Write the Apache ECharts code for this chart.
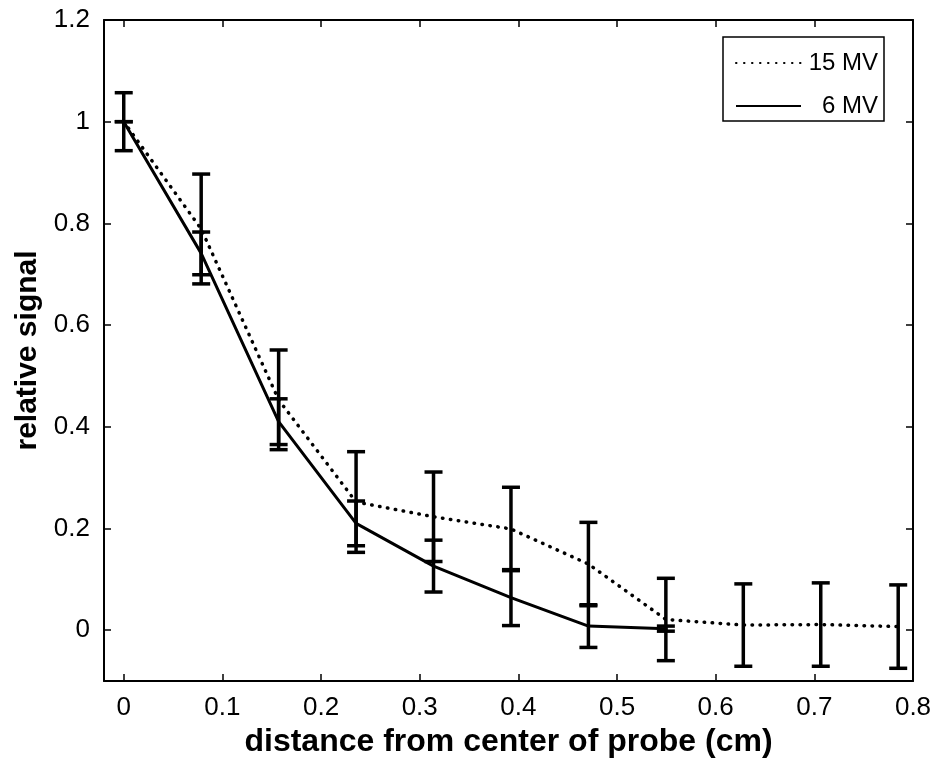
<!DOCTYPE html>
<html>
<head>
<meta charset="utf-8">
<script src="https://cdn.jsdelivr.net/npm/echarts@6/dist/echarts.min.js"></script>
<style>
html,body{margin:0;padding:0;background:#fff;}
#chart{width:935px;height:768px;}
</style>
</head>
<body>
<div id="chart"></div>
<script>
// ---- data ----
var distance = [0, 0.0785, 0.157, 0.2355, 0.314, 0.3925, 0.471, 0.5495, 0.628, 0.7065, 0.785];
var signal15 = [1.0, 0.789, 0.453, 0.252, 0.223, 0.199, 0.130, 0.021, 0.010, 0.011, 0.007];
var err15    = [0.057, 0.108, 0.098, 0.099, 0.088, 0.082, 0.082, 0.081, 0.081, 0.082, 0.082];
var signal6  = [1.0, 0.741, 0.410, 0.210, 0.126, 0.064, 0.008, 0.003];
var err6     = [0.0, 0.042, 0.045, 0.044, 0.051, 0.055, 0.042, 0.005];
var xTicks = [0, 0.1, 0.2, 0.3, 0.4, 0.5, 0.6, 0.7, 0.8];
var yTicks = [0, 0.2, 0.4, 0.6, 0.8, 1, 1.2];
var seriesNames = ['15 MV', '6 MV'];
var xTitle = 'distance from center of probe (cm)';
var yTitle = 'relative signal';

var FONT = '"Liberation Sans", Arial, sans-serif';

function pairs(xs, ys) {
  var out = [];
  for (var i = 0; i < ys.length; i++) out.push([xs[i], ys[i]]);
  return out;
}
function errData(xs, ys, es) {
  var out = [];
  for (var i = 0; i < ys.length; i++) out.push([xs[i], ys[i] - es[i], ys[i] + es[i]]);
  return out;
}
function renderErr(params, api) {
  var x = api.value(0);
  var lo = api.coord([x, api.value(1)]);
  var hi = api.coord([x, api.value(2)]);
  var hw = 9;
  var st = {stroke: '#000', lineWidth: 3.5};
  return {
    type: 'group',
    children: [
      {type: 'line', shape: {x1: lo[0], y1: lo[1], x2: hi[0], y2: hi[1]}, style: st},
      {type: 'line', shape: {x1: lo[0] - hw, y1: lo[1], x2: lo[0] + hw, y2: lo[1]}, style: st},
      {type: 'line', shape: {x1: hi[0] - hw, y1: hi[1], x2: hi[0] + hw, y2: hi[1]}, style: st}
    ]
  };
}

var tickLabel = {fontFamily: FONT, fontSize: 26, color: '#000'};
var axisLineStyle = {color: '#000', width: 2};

var chart = echarts.init(document.getElementById('chart'), null, {renderer: 'canvas'});
chart.setOption({
  animation: false,
  backgroundColor: '#fff',
  grid: {left: 104, right: 22, top: 20, bottom: 87, containLabel: false},
  legend: {
    data: seriesNames,
    orient: 'vertical',
    left: 723, top: 37,
    padding: [14, 6, 3, 12],
    itemWidth: 65, itemHeight: 14, itemGap: 19,
    backgroundColor: '#fff',
    borderColor: '#000', borderWidth: 1.5, borderRadius: 0,
    itemStyle: {opacity: 0},
    formatter: function (n) { return '{t|' + n + '}'; },
    textStyle: {
      fontFamily: FONT, fontSize: 24, color: '#000',
      rich: {t: {fontFamily: FONT, fontSize: 24, color: '#000', width: 72, align: 'right'}}
    }
  },
  xAxis: [
    {
      type: 'value', min: -0.02, max: 0.8, position: 'bottom',
      name: xTitle, nameLocation: 'middle', nameGap: 37,
      nameTextStyle: {fontFamily: FONT, fontSize: 32, fontWeight: 'bold', color: '#000'},
      axisLine: {show: true, onZero: false, lineStyle: axisLineStyle},
      axisTick: {show: true, inside: true, length: 7, customValues: xTicks, lineStyle: {color: '#000', width: 1.5}},
      axisLabel: {show: true, customValues: xTicks, margin: 14, ...tickLabel},
      splitLine: {show: false}
    },
    {
      type: 'value', min: -0.02, max: 0.8, position: 'top',
      axisLine: {show: true, onZero: false, lineStyle: axisLineStyle},
      axisTick: {show: true, inside: true, length: 7, customValues: xTicks, lineStyle: {color: '#000', width: 1.5}},
      axisLabel: {show: false},
      splitLine: {show: false}
    }
  ],
  yAxis: [
    {
      type: 'value', min: -0.1, max: 1.2, position: 'left',
      name: yTitle, nameLocation: 'middle', nameGap: 47, nameRotate: 90,
      nameTextStyle: {fontFamily: FONT, fontSize: 30, fontWeight: 'bold', color: '#000'},
      axisLine: {show: true, onZero: false, lineStyle: axisLineStyle},
      axisTick: {show: true, inside: true, length: 7, customValues: yTicks, lineStyle: {color: '#000', width: 1.5}},
      axisLabel: {show: true, customValues: yTicks, margin: 14, ...tickLabel},
      splitLine: {show: false}
    },
    {
      type: 'value', min: -0.1, max: 1.2, position: 'right',
      axisLine: {show: true, onZero: false, lineStyle: axisLineStyle},
      axisTick: {show: true, inside: true, length: 7, customValues: yTicks, lineStyle: {color: '#000', width: 1.5}},
      axisLabel: {show: false},
      splitLine: {show: false}
    }
  ],
  series: [
    {
      name: seriesNames[0], type: 'line', data: pairs(distance, signal15),
      symbol: 'none', z: 3,
      lineStyle: {color: '#000', width: 3.5, type: [0.5, 7.5], cap: 'round'},
      itemStyle: {color: '#000'}
    },
    {
      name: seriesNames[1], type: 'line', data: pairs(distance, signal6),
      symbol: 'none', z: 3,
      lineStyle: {color: '#000', width: 3, type: 'solid'},
      itemStyle: {color: '#000'}
    },
    {
      type: 'custom', name: 'err15', renderItem: renderErr, z: 4,
      data: errData(distance, signal15, err15), encode: {x: 0, y: [1, 2]}
    },
    {
      type: 'custom', name: 'err6', renderItem: renderErr, z: 4,
      data: errData(distance, signal6, err6), encode: {x: 0, y: [1, 2]}
    }
  ]
});
</script>
</body>
</html>
